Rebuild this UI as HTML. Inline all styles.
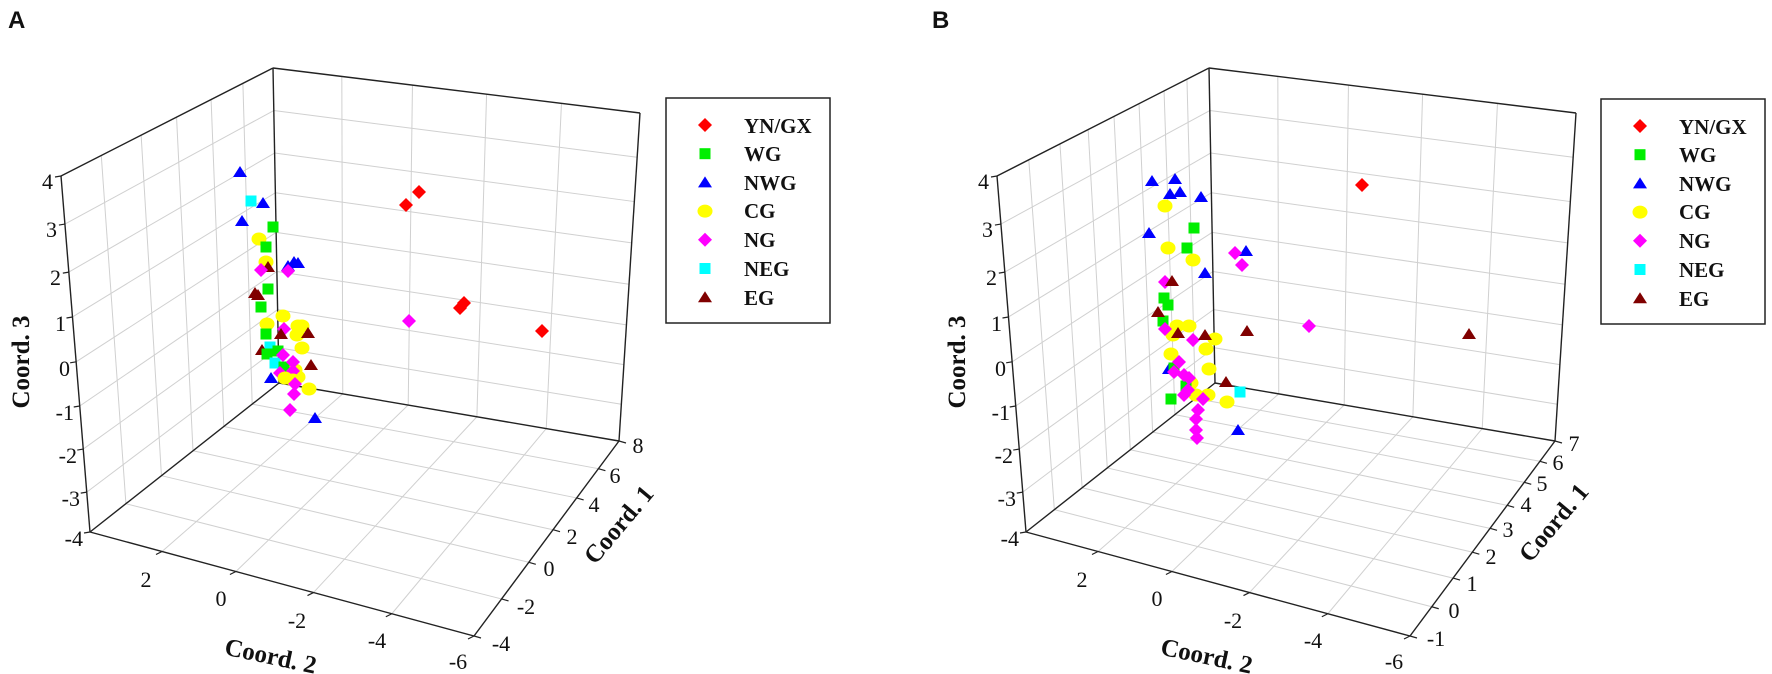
<!DOCTYPE html>
<html><head><meta charset="utf-8">
<style>
html,body{margin:0;padding:0;background:#fff;}
svg{display:block;}
.t{font-family:"Liberation Serif",serif;font-size:22px;fill:#111;}
.ti{font-family:"Liberation Serif",serif;font-size:25px;font-weight:bold;fill:#111;}
.lg{font-family:"Liberation Serif",serif;font-size:21px;font-weight:bold;fill:#111;}
.pl{font-family:"Liberation Sans",sans-serif;font-size:24px;font-weight:bold;fill:#111;}
</style></head>
<body>
<svg id="s" width="1772" height="674" viewBox="0 0 1772 674" xmlns="http://www.w3.org/2000/svg">
<rect width="1772" height="674" fill="#fff"/>
<g id="grid"></g>
<g id="marks"></g>

<!-- Panel A texts -->
<text class="pl" x="8" y="28">A</text>
<g class="t" text-anchor="end">
<text x="53" y="189">4</text><text x="57" y="237">3</text><text x="61" y="285">2</text><text x="66" y="331">1</text><text x="70" y="376">0</text><text x="74" y="420">-1</text><text x="77" y="463">-2</text><text x="80" y="506">-3</text><text x="83" y="546">-4</text>
</g>
<g class="t" text-anchor="middle">
<text x="146" y="587">2</text><text x="221" y="606">0</text><text x="297" y="628">-2</text><text x="377" y="648">-4</text><text x="458" y="669">-6</text>
<text x="501" y="651">-4</text><text x="526" y="614">-2</text><text x="549" y="576">0</text><text x="572" y="544">2</text><text x="594" y="512">4</text><text x="615" y="483">6</text><text x="638" y="453">8</text>
</g>
<text class="ti" text-anchor="middle" transform="translate(29,362) rotate(-90)">Coord. 3</text>
<text class="ti" text-anchor="middle" transform="translate(269,664) rotate(12)">Coord. 2</text>
<text class="ti" text-anchor="middle" transform="translate(625,530) rotate(-50)">Coord. 1</text>

<rect x="666" y="98" width="164" height="225" fill="none" stroke="#222" stroke-width="1.5"/>
<g class="lg">
<text x="744" y="133">YN/GX</text><text x="744" y="161">WG</text><text x="744" y="190">NWG</text><text x="744" y="218">CG</text><text x="744" y="247">NG</text><text x="744" y="276">NEG</text><text x="744" y="305">EG</text>
</g>

<!-- Panel B texts -->
<text class="pl" x="932" y="28">B</text>
<g class="t" text-anchor="end">
<text x="989" y="189">4</text><text x="993" y="237">3</text><text x="997" y="285">2</text><text x="1002" y="331">1</text><text x="1006" y="376">0</text><text x="1010" y="420">-1</text><text x="1013" y="463">-2</text><text x="1016" y="506">-3</text><text x="1019" y="546">-4</text>
</g>
<g class="t" text-anchor="middle">
<text x="1082" y="587">2</text><text x="1157" y="606">0</text><text x="1233" y="628">-2</text><text x="1313" y="648">-4</text><text x="1394" y="669">-6</text>
<text x="1436" y="646">-1</text><text x="1454" y="618">0</text><text x="1472" y="591">1</text><text x="1491" y="564">2</text><text x="1508" y="537">3</text><text x="1526" y="512">4</text><text x="1542" y="491">5</text><text x="1558" y="470">6</text><text x="1574" y="451">7</text>
</g>
<text class="ti" text-anchor="middle" transform="translate(965,362) rotate(-90)">Coord. 3</text>
<text class="ti" text-anchor="middle" transform="translate(1205,664) rotate(12)">Coord. 2</text>
<text class="ti" text-anchor="middle" transform="translate(1560,528) rotate(-50)">Coord. 1</text>

<rect x="1601" y="99" width="164" height="225" fill="none" stroke="#222" stroke-width="1.5"/>
<g class="lg">
<text x="1679" y="134">YN/GX</text><text x="1679" y="162">WG</text><text x="1679" y="191">NWG</text><text x="1679" y="219">CG</text><text x="1679" y="248">NG</text><text x="1679" y="277">NEG</text><text x="1679" y="306">EG</text>
</g>
</svg>
<script>
(function(){
var NS="http://www.w3.org/2000/svg";
var grid=document.getElementById("grid"),marks=document.getElementById("marks");
function L(g,a,b,c,w){var l=document.createElementNS(NS,"line");l.setAttribute("x1",a[0]);l.setAttribute("y1",a[1]);l.setAttribute("x2",b[0]);l.setAttribute("y2",b[1]);l.setAttribute("stroke",c);l.setAttribute("stroke-width",w);g.appendChild(l);}
function lerp(a,b,t){return [a[0]+(b[0]-a[0])*t,a[1]+(b[1]-a[1])*t];}
var zf=[0,.135,.27,.396,.522,.646,.767,.888,1];
var c2=[.1875,.38,.582,.786];
function panel(dx,f1){
 function P(p){return [p[0]+dx,p[1]];}
 var FT=P([61,176]),FB=P([90,532]),BT=P([273,68]),BB=P([279,383]),RT=P([640,113]),RB=P([619,441]),FR=P([474,636]);
 var G="#d0d0d0";
 f1.forEach(function(u,i){if(i>0&&i<f1.length-1)L(grid,lerp(FT,BT,u),lerp(FB,BB,u),G,1);});
 zf.forEach(function(v,i){if(i>0&&i<zf.length-1)L(grid,lerp(FT,FB,v),lerp(BT,BB,v),G,1);});
 c2.forEach(function(u){L(grid,lerp(BT,RT,u),lerp(BB,RB,u),G,1);});
 zf.forEach(function(v,i){if(i>0&&i<zf.length-1)L(grid,lerp(BT,BB,v),lerp(RT,RB,v),G,1);});
 c2.forEach(function(u){L(grid,lerp(FB,FR,u),lerp(BB,RB,u),G,1);});
 f1.forEach(function(w,i){if(i>0&&i<f1.length-1)L(grid,lerp(FB,BB,w),lerp(FR,RB,w),G,1);});
 var K="#222";
 [[FT,FB],[FT,BT],[BT,BB],[BT,RT],[RT,RB],[BB,RB],[BB,FB],[FB,FR],[FR,RB]].forEach(function(s){L(grid,s[0],s[1],K,1.4);});
 zf.forEach(function(v){var p=lerp(FT,FB,v);L(grid,p,[p[0]-6,p[1]+1],K,1.2);});
 c2.concat([1]).forEach(function(u){var p=lerp(FB,FR,u);L(grid,p,[p[0]-6,p[1]+3],K,1.2);});
 f1.forEach(function(w){var p=lerp(FR,RB,w);L(grid,p,[p[0]+7,p[1]+2],K,1.2);});
}
panel(0,[0,.19,.378,.545,.708,.858,1]);
panel(936,[0,.15,.297,.43,.552,.67,.788,.896,1]);
var COL={R:"#ff0000",W:"#00ee00",N:"#0000ff",C:"#ffff00",M:"#ff00ff",E:"#00ffff",G:"#800000"};
function mk(t,x,y){
 var e,c=COL[t];
 if(t=="R"||t=="M"){e=document.createElementNS(NS,"polygon");e.setAttribute("points",(x)+","+(y-7)+" "+(x+7)+","+y+" "+x+","+(y+7)+" "+(x-7)+","+y);}
 else if(t=="W"||t=="E"){e=document.createElementNS(NS,"rect");e.setAttribute("x",x-5.5);e.setAttribute("y",y-5.5);e.setAttribute("width",11);e.setAttribute("height",11);}
 else if(t=="N"||t=="G"){e=document.createElementNS(NS,"polygon");e.setAttribute("points",x+","+(y-6)+" "+(x+7)+","+(y+5)+" "+(x-7)+","+(y+5));}
 else {e=document.createElementNS(NS,"ellipse");e.setAttribute("cx",x);e.setAttribute("cy",y);e.setAttribute("rx",7.5);e.setAttribute("ry",6.5);}
 e.setAttribute("fill",c);marks.appendChild(e);
}
var A=[
["C",302,326],["C",298,326],["C",302,348],["C",309,389],["C",295,370],["C",298,377],
["N",240,172],["E",251,201],["N",263,203],["N",242,221],["W",273,227],["C",259,239],["W",266,247],["C",266,262],["G",268,267],["M",261,270],
["N",288,266],["N",294,262],["N",298,263],["M",288,271],["G",255,293],["G",258,295],["W",268,289],["W",261,307],["C",283,316],["C",267,324],
["M",284,329],["W",266,334],["G",281,334],["C",297,335],["G",308,333],["E",270,347],["G",262,350],["W",267,354],["W",278,351],["E",275,363],["W",284,367],
["M",283,355],["M",293,362],["G",311,365],["M",280,373],["M",293,371],["C",285,378],["C",293,380],["N",271,378],["M",295,384],["M",294,394],["M",290,410],["N",315,418],
["R",419,192],["R",406,205],["R",464,303],["R",460,308],["R",542,331],["M",409,321]
];
var B=[
["N",1152,181],["N",1175,179],["N",1170,194],["N",1180,192],["N",1201,197],["N",1149,233],["N",1246,251],["N",1205,273],["N",1169,369],["N",1238,430],
["C",1165,206],["C",1168,248],["C",1193,260],["C",1177,326],["C",1189,326],["C",1173,335],["C",1215,339],["C",1206,349],["C",1171,354],["C",1209,369],["C",1191,383],["C",1196,395],["C",1208,395],["C",1227,402],
["W",1194,228],["W",1187,248],["W",1164,298],["W",1168,305],["W",1163,321],["W",1174,368],["W",1186,386],["W",1171,399],
["R",1362,185],
["M",1235,253],["M",1242,265],["M",1165,282],["M",1165,329],["M",1193,340],["M",1179,362],["M",1174,372],["M",1184,375],["M",1189,378],["M",1188,390],["M",1184,395],["M",1203,399],["M",1198,410],["M",1196,419],["M",1196,430],["M",1197,438],["M",1309,326],
["G",1172,281],["G",1158,312],["G",1178,333],["G",1205,335],["G",1247,331],["G",1226,382],["G",1469,334],
["E",1240,392]
];
A.forEach(function(p){mk(p[0],p[1],p[2]);});
B.forEach(function(p){mk(p[0],p[1],p[2]);});
["R","W","N","C","M","E","G"].forEach(function(t,i){mk(t,705,125+i*28.7);mk(t,1640,126+i*28.7);});
})();
</script>
</body></html>
